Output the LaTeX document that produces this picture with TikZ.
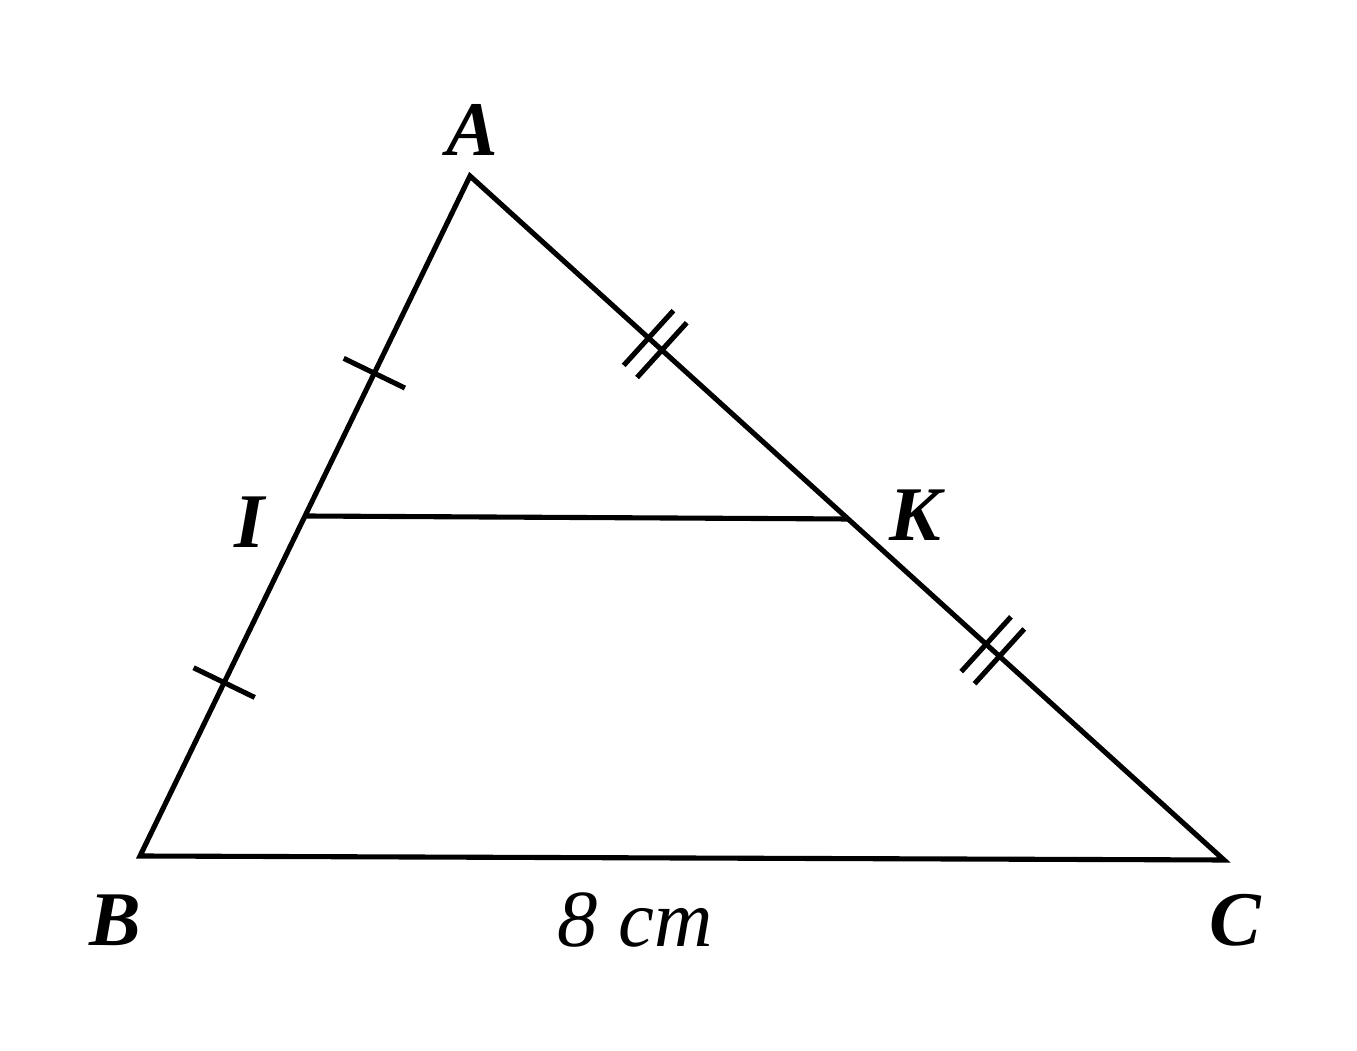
\documentclass[tikz,border=0pt]{standalone}
\usepackage{fontspec}
\setmainfont{Liberation Serif}
\usetikzlibrary{calc}

\tikzset{
	side/.style={line width=1.45pt,line join=miter},
	vlabel/.style={font=\fontsize{22}{26}\selectfont\bfseries\itshape,inner sep=0pt},
	tick/.style={line width=1.45pt}
}

\begin{document}
\begin{tikzpicture}

		\useasboundingbox (0,0) rectangle (13.57,10.51);

		\coordinate (A) at (4.70,8.75);
		\coordinate (B) at (1.40,1.95);
		\coordinate (C) at (12.24,1.91);
		\coordinate (I) at (3.05,5.35);
		\coordinate (K) at (8.48,5.32);

		\draw[side] (B) -- (A) -- (C) -- cycle;
		\draw[side] (I) -- (K);

		% single ticks on AI and IB
		\draw[tick] ($(A)!0.58!(I)!0.34cm!90:(I)$) -- ($(A)!0.58!(I)!0.34cm!-90:(I)$);
		\draw[tick] ($(I)!0.49!(B)!0.34cm!90:(B)$) -- ($(I)!0.49!(B)!0.34cm!-90:(B)$);

		% double ticks on AK and KC
		\foreach \s in {-0.09cm,0.09cm}{
			\draw[tick] ($(A)!0.49!(K)!\s!0:(K)!0.37cm!90:(K)$) -- ($(A)!0.49!(K)!\s!0:(K)!0.37cm!-90:(K)$);
			\draw[tick] ($(K)!0.385!(C)!\s!0:(C)!0.37cm!90:(C)$) -- ($(K)!0.385!(C)!\s!0:(C)!0.37cm!-90:(C)$);
		}

		\node[vlabel] (lA) at (4.72,9.21) {A};
		\node[vlabel] (lB) at (1.15,1.31) {B};
		\node[vlabel] (lC) at (12.35,1.31) {C};
		\node[vlabel] (lI) at (2.50,5.29) {I};
		\node[vlabel] (lK) at (9.15,5.36) {K};
		\node[font=\fontsize{23}{27}\selectfont\itshape,inner sep=0pt] (len) at (6.35,1.31) {8 cm};

\end{tikzpicture}
\end{document}
